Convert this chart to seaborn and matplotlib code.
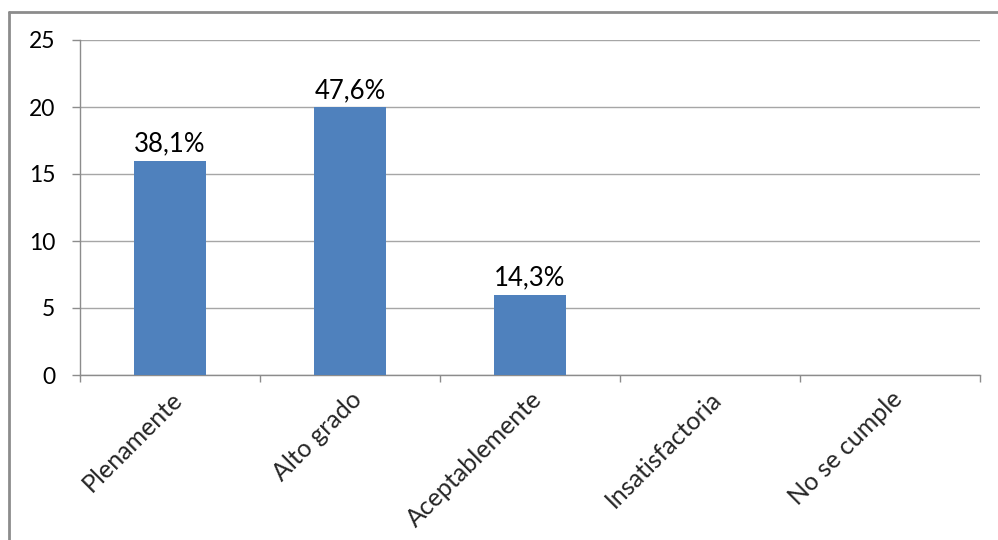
import matplotlib
matplotlib.use("Agg")
import matplotlib.pyplot as plt
import seaborn as sns
import pandas as pd
from matplotlib.lines import Line2D

categories = ["Plenamente", "Alto grado", "Aceptablemente", "Insatisfactoria", "No se cumple"]
values = [16, 20, 6, 0, 0]
labels = ["38,1%", "47,6%", "14,3%", "", ""]
yticks = [0, 5, 10, 15, 20, 25]

sns.set_theme(style="white")
plt.rcParams['font.family'] = ['Lato', 'DejaVu Sans']

df = pd.DataFrame({"cat": categories, "val": values})

fig = plt.figure(figsize=(9.98, 5.40), dpi=100)
ax = fig.add_axes([80/998, 1-375/540, 900/998, 335/540])

sns.barplot(data=df, x="cat", y="val", color="#4f81bd", width=0.4, ax=ax,
            saturation=1, linewidth=0, zorder=3)

ax.set_ylim(0, 25)
ax.set_xlim(-0.5, len(categories) - 0.5)
ax.set_yticks(yticks)
ax.set_yticklabels([str(t) for t in yticks], fontsize=16.5, color="#000000")
ax.yaxis.grid(True, color="#a6a6a6", linewidth=1.0, zorder=0)
ax.set_axisbelow(True)
ax.set_xlabel("")
ax.set_ylabel("")

for s in ["top", "right"]:
    ax.spines[s].set_visible(False)
for s in ["left", "bottom"]:
    ax.spines[s].set_color("#8c8c8c")
    ax.spines[s].set_linewidth(1.0)

ax.tick_params(axis="y", which="major", length=5.8, color="#8c8c8c", width=1, left=True, pad=12)

# x ticks at category boundaries
ax.set_xticks([i - 0.5 for i in range(len(categories) + 1)], minor=False)
ax.set_xticklabels([])
ax.tick_params(axis="x", which="major", length=5, color="#8c8c8c", width=1, bottom=True)
ax.set_xticks(range(len(categories)), minor=True)
ax.set_xticklabels(categories, minor=True, rotation=45, ha="right",
                   rotation_mode="anchor", fontsize=18)
ax.tick_params(axis="x", which="minor", length=0, pad=9)

for i, (v, lab) in enumerate(zip(values, labels)):
    if lab:
        ax.text(i, v + 0.3, lab, ha="center", va="bottom", fontsize=18.5, color="#000000")

# outer chart frame (left and top edges visible)
fig.add_artist(Line2D([9/998, 9/998], [0, 1-12/540], transform=fig.transFigure,
                      color="#8c8c8c", linewidth=2))
fig.add_artist(Line2D([9/998, 1], [1-12/540, 1-12/540], transform=fig.transFigure,
                      color="#8c8c8c", linewidth=2))

fig.savefig("out.png", dpi=100)
